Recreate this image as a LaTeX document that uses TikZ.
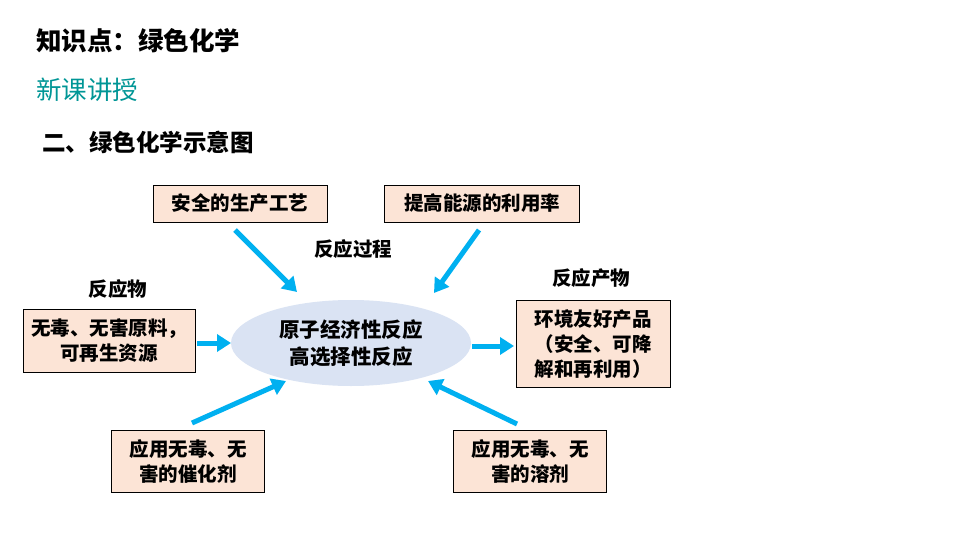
\documentclass[tikz,border=0pt]{standalone}
\usepackage{fontspec}
\setmainfont{Noto Sans CJK SC}
\usetikzlibrary{arrows.meta,shapes.geometric}
\definecolor{boxfill}{RGB}{252,228,214}
\definecolor{ellfill}{RGB}{218,227,243}
\definecolor{arr}{RGB}{0,176,240}
\definecolor{teal}{RGB}{0,150,150}
\begin{document}
\begin{tikzpicture}[x=1pt,y=-1pt,
  box/.style={draw=black,fill=boxfill,line width=0.8pt,minimum height=37pt,inner sep=2pt,align=center,font=\fontsize{19.5}{25}\selectfont\bfseries},
  lbl/.style={font=\fontsize{19.5}{22}\selectfont\bfseries},
  ar/.style={draw=arr,line width=5pt,-{Triangle[length=14pt,width=17pt]}}]
\useasboundingbox[fill=white] (0,0) rectangle (960,540);
\node[anchor=west,inner sep=0pt,font=\fontsize{25.5}{28}\selectfont\bfseries] (t1) at (36,41) {知识点：绿色化学};
\node[anchor=west,inner sep=0pt,text=teal,font=\fontsize{25.5}{28}\selectfont] (t2) at (36,90) {新课讲授};
\node[anchor=west,inner sep=0pt,font=\fontsize{23.5}{26}\selectfont\bfseries] (t3) at (42,142) {二、绿色化学示意图};
\node[ellipse,fill=ellfill,minimum width=240pt,minimum height=86pt,inner sep=0pt,align=center,font=\fontsize{20.5}{27}\selectfont\bfseries] (c) at (351,343) {原子经济性反应\\高选择性反应};
\node[box,minimum width=174pt] (b1) at (240,203.5) {安全的生产工艺};
\node[box,minimum width=195pt] (b2) at (482,203.5) {提高能源的利用率};
\node[box,minimum width=172pt,minimum height=63pt] (b3) at (109,341) {无毒、无害原料，\\可再生资源};
\node[box,minimum width=154pt,minimum height=87pt] (b4) at (593,344) {环境友好产品\\（安全、可降\\解和再利用）};
\node[box,minimum width=153pt,minimum height=62pt] (b5) at (188,461) {应用无毒、无\\害的催化剂};
\node[box,minimum width=153pt,minimum height=62pt] (b6) at (530,461) {应用无毒、无\\害的溶剂};
\node[lbl] (l1) at (353,249) {反应过程};
\node[lbl] (l2) at (118,289) {反应物};
\node[lbl] (l3) at (591,278) {反应产物};
\coordinate (a1s) at (235,230); \coordinate (a1e) at (297,292);
\coordinate (a2s) at (479,230); \coordinate (a2e) at (434,293);
\coordinate (a3s) at (197,343); \coordinate (a3e) at (231,343);
\coordinate (a4s) at (472,346); \coordinate (a4e) at (514,346);
\coordinate (a5s) at (192,423); \coordinate (a5e) at (286,381);
\coordinate (a6s) at (517,424); \coordinate (a6e) at (428,381);
\foreach \i in {1,...,6} {\draw[ar] (a\i s) -- (a\i e);}
\end{tikzpicture}
\end{document}
